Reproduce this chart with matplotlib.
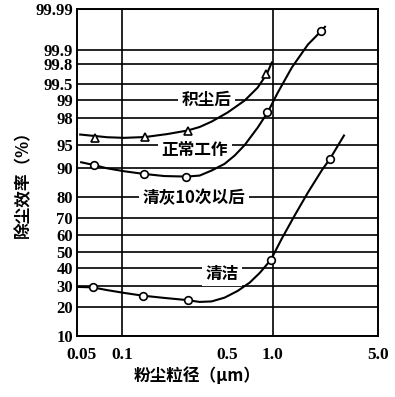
import numpy as np
import matplotlib
matplotlib.use('Agg')
import matplotlib.pyplot as plt
import matplotlib.transforms as mtransforms
from statistics import NormalDist

# axis ticks
x_ticks = [0.05, 0.1, 0.5, 1.0, 5.0]
x_tick_labels = ['0.05', '0.1', '0.5', '1.0', '5.0']
x_grid = [0.1, 1.0]
y_ticks = [10, 20, 30, 40, 50, 60, 70, 80, 90, 95, 98, 99, 99.5, 99.8, 99.9, 99.99]
y_tick_labels = ['10', '20', '30', '40', '50', '60', '70', '80', '90', '95', '98', '99',
                 '99.5', '99.8', '99.9', '99.99']

# 积尘后 (triangles)
dusty_curve_x = [0.0525, 0.0794, 0.1031, 0.1423, 0.1995, 0.2713, 0.3262, 0.3921, 0.5012,
                 0.6506, 0.7943, 0.912, 0.9848]
dusty_curve_y = [96.40, 96.06, 95.98, 96.09, 96.46, 96.86, 97.22, 97.71, 98.37,
                 98.985, 99.413, 99.680, 99.815]
dusty_pts_x = [0.0658, 0.1423, 0.2725, 0.908]
dusty_pts_y = [95.98, 96.09, 96.86, 99.683]

# 正常工作 / 清灰10次以后 (circles)
normal_curve_x = [0.0533, 0.0641, 0.0794, 0.1031, 0.1380, 0.1905, 0.2672, 0.3262, 0.3921,
                  0.4786, 0.5580, 0.6506, 0.7943, 0.9261, 1.0798, 1.3387, 1.7113, 2.0893, 2.2218]
normal_curve_y = [91.53, 90.89, 89.99, 89.18, 88.42, 87.75, 87.59, 87.90, 89.38,
                  91.15, 93.02, 94.93, 97.17, 98.39, 99.27, 99.765, 99.926, 99.964, 99.972]
normal_pts_x = [0.0644, 0.1387, 0.2659, 0.922, 2.080]
normal_pts_y = [90.89, 88.42, 87.59, 98.39, 99.964]

# 清洁 (circles)
clean_curve_x = [0.0501, 0.0631, 0.0794, 0.1031, 0.1359, 0.1905, 0.2713, 0.3262, 0.3921, 0.4786,
                 0.5843, 0.7024, 0.8190, 0.9698, 1.1482, 1.4019, 1.7113, 2.1219, 2.3988, 2.9717]
clean_curve_y = [29.57, 29.36, 27.90, 26.47, 25.14, 24.02, 22.99, 22.16, 22.39, 24.17,
                 27.49, 31.89, 37.37, 45.12, 58.08, 71.38, 81.85, 89.52, 92.31, 96.28]
clean_pts_x = [0.0634, 0.1365, 0.2725, 0.970, 2.399]
clean_pts_y = [29.36, 25.14, 23.08, 45.12, 92.31]

# curve labels
labels = ['积尘后', '正常工作', '清灰10次以后', '清洁']
label_x = [0.361, 0.304, 0.298, 0.461]
label_y = [98.99, 94.17, 79.5, 36.96]

_nd = NormalDist()
_ppf = np.vectorize(_nd.inv_cdf, otypes=[float])
_cdf = np.vectorize(_nd.cdf, otypes=[float])


def prob_fwd(p):
    p = np.clip(np.asarray(p, dtype=float) / 100.0, 1e-9, 1 - 1e-9)
    return _ppf(p)


def prob_inv(z):
    return _cdf(np.asarray(z, dtype=float)) * 100.0


serif = 'Liberation Serif'
cjk = ['Noto Sans CJK SC', 'DejaVu Sans']

fig = plt.figure(figsize=(3.95, 3.97), dpi=100)
ax = fig.add_axes([0.1949, 0.1549, 0.762, 0.8217])

ax.set_xscale('log')
ax.set_yscale('function', functions=(prob_fwd, prob_inv))
ax.set_xlim(0.05, 5.0)
ax.set_ylim(10, 99.99)

ax.set_xticks(x_ticks)
ax.set_xticklabels(x_tick_labels, fontfamily=serif, fontweight='bold', fontsize=12.5)
ax.xaxis.set_minor_locator(matplotlib.ticker.NullLocator())
ax.set_yticks(y_ticks)
ax.set_yticklabels(y_tick_labels, fontfamily=serif, fontweight='bold', fontsize=12)
ax.yaxis.set_minor_locator(matplotlib.ticker.NullLocator())
ax.tick_params(axis='both', length=0)
ax.tick_params(axis='x', pad=8)
ax.tick_params(axis='y', pad=3)

# nudge the first x label off the corner
first = ax.get_xticklabels()[0]
first.set_transform(first.get_transform() + mtransforms.ScaledTranslation(5 / 100, 0, fig.dpi_scale_trans))

ax.yaxis.grid(True, color='black', linewidth=1.2)
for gx in x_grid:
    ax.axvline(gx, color='black', linewidth=1.2, zorder=1)
for s in ax.spines.values():
    s.set_linewidth(1.4)

ax.plot(dusty_curve_x, dusty_curve_y, color='black', lw=1.5, zorder=3)
ax.plot(normal_curve_x, normal_curve_y, color='black', lw=1.5, zorder=3)
ax.plot(clean_curve_x, clean_curve_y, color='black', lw=1.5, zorder=3)

ax.plot(dusty_pts_x, dusty_pts_y, '^', ms=6, mfc='white', mec='black', mew=1.2, ls='none', zorder=4)
ax.plot(normal_pts_x, normal_pts_y, 'o', ms=5.5, mfc='white', mec='black', mew=1.2, ls='none', zorder=4)
ax.plot(clean_pts_x, clean_pts_y, 'o', ms=5.5, mfc='white', mec='black', mew=1.2, ls='none', zorder=4)

for t, lx, ly in zip(labels, label_x, label_y):
    ax.text(lx, ly, t, family=cjk, fontweight='bold', fontsize=12, ha='center', va='center',
            zorder=2.5, bbox=dict(facecolor='white', edgecolor='none', pad=2.5))

ax.set_xlabel('粉尘粒径（μm）', family=cjk, fontweight='bold', fontsize=12)
ax.xaxis.set_label_coords(0.398, -0.096)
ax.set_ylabel('除尘效率（%）', family=cjk, fontweight='bold', fontsize=12)
ax.yaxis.set_label_coords(-0.150, 0.477)

fig.savefig('out.png', dpi=100)
